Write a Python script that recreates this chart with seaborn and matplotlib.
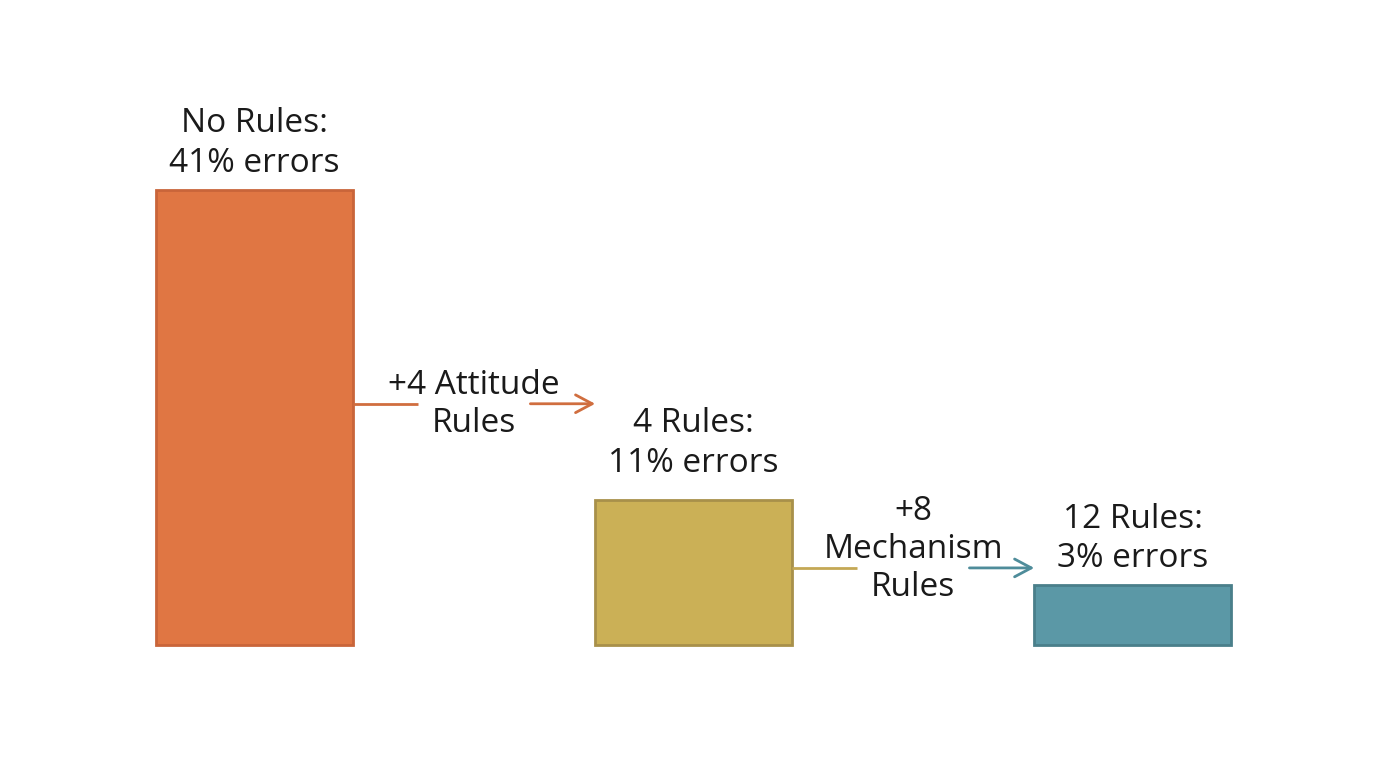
import matplotlib
matplotlib.use("Agg")
import matplotlib.pyplot as plt
import seaborn as sns

# data
stages = ["No Rules", "4 Rules", "12 Rules"]
error_pct = [41, 11, 3]
bar_heights = [41, 13.1, 5.4]   # drawn heights as seen in the picture
steps = ["+4 Attitude\nRules", "+8\nMechanism\nRules"]

fill_colors = ["#E07643", "#CBB056", "#5B98A6"]
edge_colors = ["#C9653A", "#A8904A", "#4A7F8A"]
line_colors = ["#D06E3F", "#C4A855"]
arrow_colors = ["#D06E3F", "#4E8C9A"]

sns.set_theme(style="white")
plt.rcParams["font.family"] = ["Open Sans", "DejaVu Sans"]

fig = plt.figure(figsize=(13.76, 7.68), dpi=100)
ax = fig.add_axes([0, 0, 1, 1])

bar_w = 0.449
sns.barplot(x=stages, y=bar_heights, hue=stages, palette=fill_colors,
            legend=False, width=bar_w, linewidth=2, ax=ax, saturation=1)
for patch, ec in zip(ax.patches, edge_colors):
    patch.set_edgecolor(ec)

# labels above bars
label_pad = [7, 14, 7]
for i, (name, pct, h) in enumerate(zip(stages, error_pct, bar_heights)):
    ax.annotate(f"{name}:\n{pct}% errors", xy=(i, h), xytext=(0, label_pad[i]),
                textcoords="offset points", ha="center", va="bottom",
                fontsize=24, color="#1a1a1a", linespacing=1.27)

# connectors between bars
gap = 0.128
for i, step in enumerate(steps):
    y = bar_heights[i] * 0.53
    x0 = i + bar_w / 2
    x1 = i + 1 - bar_w / 2
    mid = i + 0.5
    ax.plot([x0, mid - gap], [y, y], color=line_colors[i], lw=2,
            solid_capstyle="butt")
    ax.annotate("", xy=(x1, y), xytext=(mid + gap, y),
                arrowprops=dict(arrowstyle="->,head_length=0.6,head_width=0.32",
                                color=arrow_colors[i], lw=2, mutation_scale=20,
                                shrinkA=0, shrinkB=0))
    ax.annotate(step, xy=(mid, y), xytext=(0, -26), textcoords="offset points",
                ha="center", va="bottom", fontsize=24, color="#1a1a1a",
                linespacing=1.2)

ax.set_xlim(-0.58, 2.554)
ax.set_ylim(-11.08, 58.1)
ax.axis("off")

fig.savefig("out.png", dpi=100, facecolor="white")
